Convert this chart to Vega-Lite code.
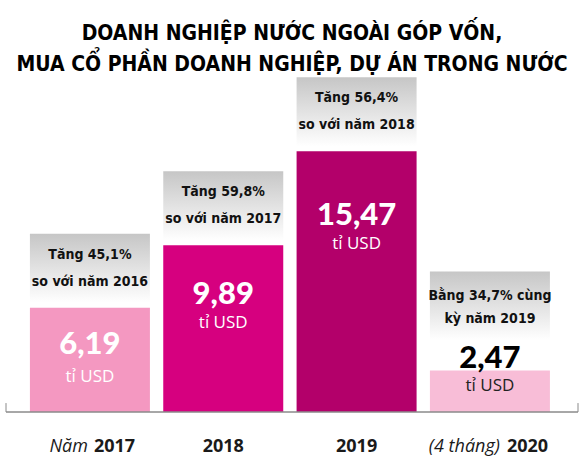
{
  "$schema": "https://vega.github.io/schema/vega-lite/v6.json",
  "width": 572,
  "height": 337,
  "autosize": "none",
  "padding": {"left": 6, "right": 8, "top": 75, "bottom": 53},
  "background": "white",
  "config": {"view": {"stroke": null}},
  "title": {
    "text": ["DOANH NGHIỆP NƯỚC NGOÀI GÓP VỐN,", "MUA CỔ PHẦN DOANH NGHIỆP, DỰ ÁN TRONG NƯỚC"],
    "font": "DejaVu Sans Condensed",
    "fontSize": 21,
    "fontWeight": "bold",
    "color": "#000000",
    "lineHeight": 31,
    "anchor": "middle",
    "baseline": "bottom",
    "offset": -21
  },
  "data": {
    "values": [
      {"year": "2017", "value": 6.19, "valueText": "6,19", "note1": "Tăng 45,1%", "note2": "so với năm 2016", "prefix": "Năm", "yearText": "2017"},
      {"year": "2018", "value": 9.89, "valueText": "9,89", "note1": "Tăng 59,8%", "note2": "so với năm 2017", "prefix": "", "yearText": "2018"},
      {"year": "2019", "value": 15.47, "valueText": "15,47", "note1": "Tăng 56,4%", "note2": "so với năm 2018", "prefix": "", "yearText": "2019"},
      {"year": "2020", "value": 2.47, "valueText": "2,47", "note1": "Bằng 34,7% cùng", "note2": "kỳ năm 2019", "prefix": "(4 tháng)", "yearText": "2020"}
    ]
  },
  "layer": [
    {
      "encoding": {
        "x": {"field": "year", "type": "nominal", "scale": {"paddingInner": 0.1, "paddingOuter": 0.195, "align": 0.46}, "axis": null},
        "y": {"field": "value", "type": "quantitative", "scale": {"domain": [0, 20], "nice": false}, "axis": null}
      },
      "layer": [
        {
          "mark": {"type": "bar"},
          "encoding": {
            "color": {"field": "year", "type": "nominal", "scale": {"domain": ["2017", "2018", "2019", "2020"], "range": ["#F498C1", "#D6007F", "#B3006A", "#F8BDD7"]}, "legend": null}
          }
        },
        {
          "transform": [{"filter": "datum.year != '2020'"}],
          "mark": {"type": "rect", "yOffset": -74, "y2Offset": -5, "fill": {"gradient": "linear", "x1": 0, "y1": 0, "x2": 0, "y2": 1, "stops": [{"offset": 0, "color": "#c6c6c6"}, {"offset": 0.6, "color": "#e8e8e8"}, {"offset": 1, "color": "#ffffff"}]}},
          "encoding": {"y2": {"field": "value"}}
        },
        {
          "transform": [{"filter": "datum.year == '2020'"}],
          "mark": {"type": "rect", "yOffset": -99, "y2Offset": -30, "fill": {"gradient": "linear", "x1": 0, "y1": 0, "x2": 0, "y2": 1, "stops": [{"offset": 0, "color": "#c6c6c6"}, {"offset": 0.6, "color": "#e8e8e8"}, {"offset": 1, "color": "#ffffff"}]}},
          "encoding": {"y2": {"field": "value"}}
        },
        {
          "transform": [{"filter": "datum.year != '2020'"}],
          "mark": {"type": "text", "font": "DejaVu Sans Condensed", "fontWeight": "bold", "fontSize": 14, "color": "#111111", "baseline": "middle", "dy": -53},
          "encoding": {"text": {"field": "note1"}}
        },
        {
          "transform": [{"filter": "datum.year != '2020'"}],
          "mark": {"type": "text", "font": "DejaVu Sans Condensed", "fontWeight": "bold", "fontSize": 14, "color": "#111111", "baseline": "middle", "dy": -26},
          "encoding": {"text": {"field": "note2"}}
        },
        {
          "transform": [{"filter": "datum.year == '2020'"}],
          "mark": {"type": "text", "font": "DejaVu Sans Condensed", "fontWeight": "bold", "fontSize": 14, "color": "#111111", "baseline": "middle", "dy": -74},
          "encoding": {"text": {"field": "note1"}}
        },
        {
          "transform": [{"filter": "datum.year == '2020'"}],
          "mark": {"type": "text", "font": "DejaVu Sans Condensed", "fontWeight": "bold", "fontSize": 14, "color": "#111111", "baseline": "middle", "dy": -51},
          "encoding": {"text": {"field": "note2"}}
        },
        {
          "transform": [{"filter": "datum.year == '2017'"}],
          "mark": {"type": "text", "font": "Lato", "fontWeight": 900, "fontSize": 31, "color": "#ffffff", "baseline": "middle", "dy": 37},
          "encoding": {"text": {"field": "valueText"}}
        },
        {
          "transform": [{"filter": "datum.year == '2017'"}],
          "mark": {"type": "text", "font": "Open Sans", "fontSize": 17, "color": "#ffffff", "baseline": "middle", "dy": 69},
          "encoding": {"text": {"value": "tỉ USD"}}
        },
        {
          "transform": [{"filter": "datum.year == '2018'"}],
          "mark": {"type": "text", "font": "Lato", "fontWeight": 900, "fontSize": 31, "color": "#ffffff", "baseline": "middle", "dy": 50},
          "encoding": {"text": {"field": "valueText"}}
        },
        {
          "transform": [{"filter": "datum.year == '2018'"}],
          "mark": {"type": "text", "font": "Open Sans", "fontSize": 17, "color": "#ffffff", "baseline": "middle", "dy": 78},
          "encoding": {"text": {"value": "tỉ USD"}}
        },
        {
          "transform": [{"filter": "datum.year == '2019'"}],
          "mark": {"type": "text", "font": "Lato", "fontWeight": 900, "fontSize": 31, "color": "#ffffff", "baseline": "middle", "dy": 65},
          "encoding": {"text": {"field": "valueText"}}
        },
        {
          "transform": [{"filter": "datum.year == '2019'"}],
          "mark": {"type": "text", "font": "Open Sans", "fontSize": 17, "color": "#ffffff", "baseline": "middle", "dy": 93},
          "encoding": {"text": {"value": "tỉ USD"}}
        },
        {
          "transform": [{"filter": "datum.year == '2020'"}],
          "mark": {"type": "text", "font": "Lato", "fontWeight": 900, "fontSize": 31, "color": "#000000", "baseline": "middle", "dy": -11},
          "encoding": {"text": {"field": "valueText"}}
        },
        {
          "transform": [{"filter": "datum.year == '2020'"}],
          "mark": {"type": "text", "font": "Open Sans", "fontSize": 17, "color": "#222222", "baseline": "middle", "dy": 16},
          "encoding": {"text": {"value": "tỉ USD"}}
        },
        {
          "transform": [{"filter": "datum.prefix == ''"}],
          "mark": {"type": "text", "font": "Open Sans", "fontWeight": "bold", "fontSize": 18, "color": "#1a1a1a", "baseline": "middle", "dy": 35},
          "encoding": {"y": {"datum": 0}, "text": {"field": "yearText"}}
        },
        {
          "transform": [{"filter": "datum.year == '2017'"}],
          "mark": {"type": "text", "font": "Open Sans", "fontWeight": "bold", "fontSize": 18, "color": "#1a1a1a", "baseline": "middle", "align": "left", "dx": 4, "dy": 35},
          "encoding": {"y": {"datum": 0}, "text": {"field": "yearText"}}
        },
        {
          "transform": [{"filter": "datum.year == '2017'"}],
          "mark": {"type": "text", "font": "Open Sans", "fontStyle": "italic", "fontSize": 18, "color": "#1a1a1a", "baseline": "middle", "align": "right", "dx": -2, "dy": 35},
          "encoding": {"y": {"datum": 0}, "text": {"field": "prefix"}}
        },
        {
          "transform": [{"filter": "datum.year == '2020'"}],
          "mark": {"type": "text", "font": "Open Sans", "fontWeight": "bold", "fontSize": 18, "color": "#1a1a1a", "baseline": "middle", "align": "left", "dx": 17, "dy": 35},
          "encoding": {"y": {"datum": 0}, "text": {"field": "yearText"}}
        },
        {
          "transform": [{"filter": "datum.year == '2020'"}],
          "mark": {"type": "text", "font": "Open Sans", "fontStyle": "italic", "fontSize": 18, "color": "#1a1a1a", "baseline": "middle", "align": "right", "dx": 10, "dy": 35},
          "encoding": {"y": {"datum": 0}, "text": {"field": "prefix"}}
        }
      ]
    },
    {
      "data": {"values": [{"e": 0}, {"e": 1}]},
      "encoding": {
        "x": {"field": "e", "type": "quantitative", "scale": {"domain": [0, 1], "nice": false, "zero": false}, "axis": null}
      },
      "layer": [
        {
          "mark": {"type": "rule", "color": "#8a8a8a", "strokeWidth": 1},
          "encoding": {"y": {"datum": 0}, "y2": {"datum": 0.53}}
        },
        {
          "mark": {"type": "rule", "color": "#8a8a8a", "strokeWidth": 1},
          "encoding": {"x": {"datum": 0, "type": "quantitative"}, "x2": {"datum": 1}, "y": {"datum": 0}}
        }
      ]
    }
  ],
  "resolve": {"scale": {"x": "independent"}}
}
